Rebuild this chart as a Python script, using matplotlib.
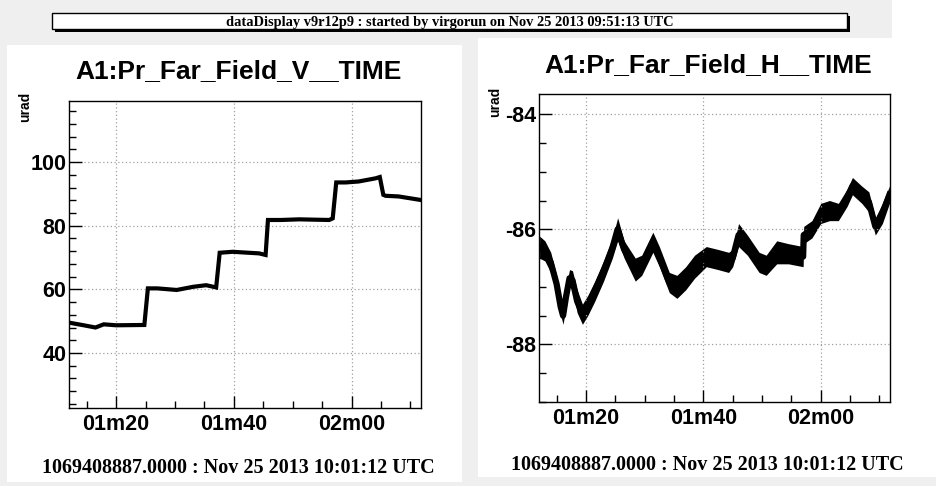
import numpy as np
import matplotlib
matplotlib.use("Agg")
import matplotlib.pyplot as plt
from matplotlib.patches import Rectangle
from matplotlib.ticker import MultipleLocator, FuncFormatter

plt.rcParams['axes.unicode_minus'] = False

# Vertical far-field channel (seconds since start, urad)
v_time = [72.1, 74.5, 76.5, 77.9, 80.0, 84.8, 85.4, 87.0, 90.3, 93.1, 95.3,
          97.0, 97.6, 99.8, 104.3, 105.4, 105.8, 108.0, 111.1, 116.2, 116.8,
          117.4, 119.0, 121.2, 124.1, 124.8, 125.4, 125.8, 128.0, 131.7]
v_vals = [49.5, 48.7, 48.0, 49.0, 48.7, 48.8, 60.3, 60.3, 59.8, 60.8, 61.3,
          60.6, 71.5, 71.8, 71.3, 70.8, 81.8, 81.8, 82.0, 81.8, 82.3,
          93.6, 93.6, 93.9, 94.9, 95.3, 89.7, 89.4, 89.2, 88.1]

# Horizontal far-field channel: lower / upper edge of the noise band
h_time = [72.1, 73.0, 74.0, 75.0, 75.7, 76.1, 76.6, 77.2, 77.7, 78.5, 79.4,
          80.3, 81.5, 83.0, 84.5, 85.4,
          86.5, 88.4, 89.5, 91.4, 92.5, 94.2, 95.5, 97.0, 98.5, 100.5, 102.5,
          104.3, 105.0, 106.0, 107.5, 109.5, 110.7, 112.5, 114.5, 117.0, 117.1,
          118.5, 120.0, 121.5, 123.0, 124.5, 125.4, 127.0, 128.2, 129.3, 130.5,
          131.7]
h_high = [-86.12, -86.20, -86.40, -86.80, -87.20, -87.35, -87.00, -86.70,
          -86.72, -87.05, -87.30, -87.15, -86.90, -86.55, -86.15, -85.80,
          -86.20, -86.50, -86.45, -86.05, -86.30,
          -86.75, -86.80, -86.65, -86.45, -86.30, -86.35, -86.40, -86.35,
          -85.90, -86.10, -86.40, -86.45, -86.20, -86.25, -86.30, -85.95,
          -85.85, -85.55, -85.50, -85.55, -85.30, -85.10, -85.25, -85.35,
          -85.80, -85.55, -85.25]
h_low = [-86.50, -86.55, -86.75, -87.10, -87.50, -87.65, -87.35, -87.00,
         -87.05, -87.45, -87.65, -87.50, -87.25, -86.90, -86.50, -86.20,
         -86.50, -86.90, -86.80, -86.40, -86.65,
         -87.10, -87.20, -87.05, -86.85, -86.65, -86.70, -86.75, -86.65,
         -86.30, -86.45, -86.75, -86.80, -86.60, -86.60, -86.65, -86.25,
         -86.15, -85.90, -85.85, -85.85, -85.60, -85.40, -85.55, -85.70,
         -86.10, -85.90, -85.55]

t_range = (72.0, 131.8)
title_v = "A1:Pr_Far_Field_V__TIME"
title_h = "A1:Pr_Far_Field_H__TIME"
banner = "dataDisplay v9r12p9 : started by virgorun on Nov 25 2013 09:51:13 UTC"
stamp = "1069408887.0000 : Nov 25 2013 10:01:12 UTC"

W, H = 936, 486


def px(x, y):
    # pixel coords (origin top-left) -> figure fraction
    return x / W, 1 - y / H


def time_label(t, pos):
    t = int(round(t))
    return "%02dm%02d" % (t // 60, t % 60)


def style_axes(ax, ymajor, yminor):
    ax.set_zorder(5)
    ax.set_xlim(*t_range)
    ax.xaxis.set_major_locator(MultipleLocator(20))
    ax.xaxis.set_minor_locator(MultipleLocator(5))
    ax.xaxis.set_major_formatter(FuncFormatter(time_label))
    ax.yaxis.set_major_locator(MultipleLocator(ymajor))
    ax.yaxis.set_minor_locator(MultipleLocator(yminor))
    ax.tick_params(which='both', direction='in', top=False, right=False,
                   width=1.0, color='black')
    ax.tick_params(which='major', length=9)
    ax.tick_params(which='minor', length=5)
    ax.tick_params(axis='x', pad=4)
    ax.tick_params(axis='y', pad=2)
    for lab in ax.get_xticklabels() + ax.get_yticklabels():
        lab.set_fontfamily('Liberation Sans')
        lab.set_fontweight('bold')
        lab.set_fontsize(15.5)
    ax.grid(True, which='major', linestyle=(0, (1, 2)), color='#a0a0a0',
            linewidth=0.9)
    for sp in ax.spines.values():
        sp.set_linewidth(1.0)


fig = plt.figure(figsize=(W / 100, H / 100), dpi=100)
fig.patch.set_facecolor('#efefef')

# panel backgrounds
for x0, y0, x1, y1 in [(7, 45, 462, 482), (478, 38, 936, 477), (892, 0, 936, 38)]:
    fx, fy = px(x0, y1)
    fig.patches.append(Rectangle((fx, fy), (x1 - x0) / W, (y1 - y0) / H,
                                 transform=fig.transFigure, facecolor='white',
                                 edgecolor='none', zorder=0))

# banner with drop shadow
bx0, by0, bx1, by1 = 52, 13, 847, 29
fx, fy = px(bx0 + 3, by1 + 3)
fig.patches.append(Rectangle((fx, fy), (bx1 - bx0) / W, (by1 - by0) / H,
                             transform=fig.transFigure, facecolor='black',
                             edgecolor='none', zorder=1))
fx, fy = px(bx0, by1)
fig.patches.append(Rectangle((fx, fy), (bx1 - bx0) / W, (by1 - by0) / H,
                             transform=fig.transFigure, facecolor='white',
                             edgecolor='black', linewidth=1.0, zorder=2))
fig.text(*px((bx0 + bx1) / 2, 26), banner, ha='center', va='baseline',
         family='Liberation Serif', weight='bold', fontsize=10.4, zorder=3)

# left: vertical channel
ax1 = fig.add_axes([69 / W, 1 - 408 / H, 352 / W, 307 / H])
ax1.plot(v_time, v_vals, color='black', linewidth=3, solid_joinstyle='miter')
ax1.set_ylim(22.7, 119.2)
style_axes(ax1, 20, 4)

# right: horizontal channel
ax2 = fig.add_axes([539 / W, 1 - 402 / H, 351 / W, 308 / H])
h_mid = [(a + b) / 2 for a, b in zip(h_low, h_high)]
ax2.fill_between(h_time, h_low, h_high, color='black', linewidth=0)
ax2.plot(h_time, h_mid, color='black', linewidth=4.5)
ax2.set_ylim(-89.0, -83.65)
style_axes(ax2, 2, 0.5)

# titles, unit labels and time stamps
fig.text(*px(239, 78), title_v, ha='center', va='baseline',
         family='Liberation Sans', weight='bold', fontsize=19)
fig.text(*px(708, 72), title_h, ha='center', va='baseline',
         family='Liberation Sans', weight='bold', fontsize=19)
fig.text(*px(25, 107), "urad", rotation=90, ha='center', va='center',
         family='Liberation Sans', weight='bold', fontsize=10)
fig.text(*px(495, 102), "urad", rotation=90, ha='center', va='center',
         family='Liberation Sans', weight='bold', fontsize=10)
fig.text(*px(238, 473), stamp, ha='center', va='baseline',
         family='Liberation Serif', weight='bold', fontsize=14.5)
fig.text(*px(707, 470), stamp, ha='center', va='baseline',
         family='Liberation Serif', weight='bold', fontsize=14.5)

fig.savefig("out.png", dpi=100, facecolor=fig.get_facecolor())
